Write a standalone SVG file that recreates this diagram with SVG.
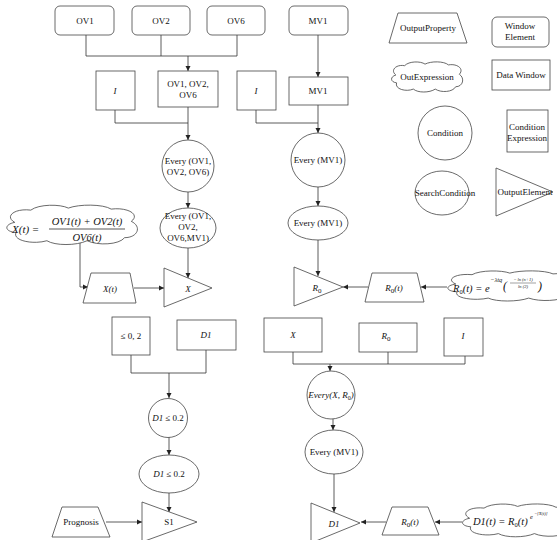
<svg xmlns="http://www.w3.org/2000/svg" xmlns:xlink="http://www.w3.org/1999/xlink" width="557" height="540" viewBox="0 0 557 540">
<defs>
<style>
.s{fill:#fff;stroke:#444;stroke-width:0.8}
.c{fill:none;stroke:#333;stroke-width:0.8}
.ca{fill:none;stroke:#333;stroke-width:0.8;marker-end:url(#ah)}
.t{font-family:"Liberation Serif","Times New Roman",serif;font-size:9px;fill:#111;text-anchor:middle}
.i{font-style:italic}
.m{font-family:"Liberation Serif","Times New Roman",serif;font-style:italic;fill:#111}
</style>
<marker id="ah" markerWidth="6" markerHeight="6" refX="5" refY="3" orient="auto" markerUnits="userSpaceOnUse"><path d="M0,0.5 L5,3 L0,5.5 z" fill="#222"/></marker>
<path id="cloud" d="M8,18 C0,12 8,4 20,6 C26,0 42,0 48,4 C56,0 74,0 80,5 C92,3 102,10 95,17 C103,22 100,33 90,33 C86,40 70,41 62,36 C54,41 38,41 32,36 C22,40 6,36 9,28 C0,27 0,20 8,18 Z" fill="#fff" stroke="#444" stroke-width="0.8" vector-effect="non-scaling-stroke"/>
</defs>
<rect width="557" height="540" fill="#fff"/>

<g id="connectors">
<path class="c" d="M86,35 V56 M161,35 V56 M237,35 V56 M86,56 H237"/>
<path class="ca" d="M188,56 V71"/>
<path class="c" d="M115,110 V123 H188"/>
<path class="ca" d="M188,107 V140"/>
<path class="ca" d="M188,192 V208"/>
<path class="ca" d="M188,247 V278"/>
<path class="ca" d="M80,243 V287 H88"/>
<path class="ca" d="M134,288 H164"/>
<path class="ca" d="M318,35 V77"/>
<path class="c" d="M256,110 V123 H318"/>
<path class="ca" d="M318,105 V133"/>
<path class="ca" d="M318,187 V206"/>
<path class="ca" d="M318,240 V276"/>
<path class="ca" d="M368,287 H343"/>
<path class="ca" d="M447,287 H421"/>
<path class="c" d="M131,355 V373 H206 V350"/>
<path class="ca" d="M169,373 V398"/>
<path class="ca" d="M169,437 V455"/>
<path class="ca" d="M169,493 V512"/>
<path class="ca" d="M106,522 H142"/>
<path class="c" d="M293,352 V364 H465 V356 M388,352 V364"/>
<path class="ca" d="M330,364 V371"/>
<path class="ca" d="M333,419 V430"/>
<path class="ca" d="M334,474 V512"/>
<path class="ca" d="M386,522 H361"/>
<path class="ca" d="M462,522 H435"/>
</g>

<g id="ov1"><rect class="s" x="55" y="6" width="59" height="29" rx="5"/><text class="t" x="85" y="24">OV1</text></g>
<g id="ov2"><rect class="s" x="132" y="6" width="58" height="29" rx="5"/><text class="t" x="161" y="24">OV2</text></g>
<g id="ov6"><rect class="s" x="207" y="6" width="58" height="29" rx="5"/><text class="t" x="236" y="24">OV6</text></g>
<g id="mv1-el"><rect class="s" x="289" y="6" width="59" height="29" rx="5"/><text class="t" x="318" y="24">MV1</text></g>

<g id="i-left"><rect class="s" x="96" y="71" width="39" height="39"/><text class="t i" x="115" y="94">I</text></g>
<g id="ov-win"><rect class="s" x="158" y="71" width="60" height="36"/><text class="t" x="188" y="87">OV1, OV2,</text><text class="t" x="188" y="98">OV6</text></g>
<g id="i-right"><rect class="s" x="237" y="71" width="39" height="39"/><text class="t i" x="256" y="94">I</text></g>
<g id="mv1-win"><rect class="s" x="289" y="77" width="59" height="28"/><text class="t" x="318" y="94">MV1</text></g>

<g id="every-ov"><circle class="s" cx="188" cy="166" r="26"/><text class="t" x="188" y="164" font-size="8.5">Every (OV1,</text><text class="t" x="188" y="175" font-size="8.5">OV2, OV6)</text></g>
<g id="every-ovmv"><ellipse class="s" cx="188" cy="228" rx="28" ry="20"/><text class="t" x="188" y="219" font-size="8">Every (OV1,</text><text class="t" x="188" y="230" font-size="8">OV2,</text><text class="t" x="188" y="241" font-size="8">OV6,MV1)</text></g>
<g id="every-mv1"><circle class="s" cx="318" cy="160" r="27"/><text class="t" x="318" y="163">Every (MV1)</text></g>
<g id="every-mv1b"><ellipse class="s" cx="318" cy="223" rx="30" ry="17"/><text class="t" x="318" y="226">Every (MV1)</text></g>

<g id="x-expr"><use xlink:href="#cloud" href="#cloud" transform="translate(4,204) scale(1.34,1.02)"/>
<text class="m" x="12" y="233" font-size="11">X(t) =</text>
<text class="m" x="87" y="225" font-size="10.5" text-anchor="middle">OV1(t) + OV2(t)</text>
<line x1="49" y1="229" x2="125" y2="229" stroke="#111" stroke-width="0.7"/>
<text class="m" x="87" y="241" font-size="10.5" text-anchor="middle">OV6(t)</text></g>
<g id="x-prop"><path class="s" d="M91,273 H130 L136,303 H83 Z"/><text class="t i" x="110" y="292" font-size="10">X(t)</text></g>
<g id="x-out"><path class="s" d="M164,268 L212,288 L164,307 Z"/><text class="t i" x="188" y="292" font-size="10">X</text></g>

<g id="r0-out"><path class="s" d="M294,267 L343,287 L294,306 Z"/><text class="t i" x="317" y="291" font-size="10">R<tspan font-size="7" dy="2" font-style="normal">0</tspan></text></g>
<g id="r0-prop"><path class="s" d="M372,273 H417 L424,302 H365 Z"/><text class="t i" x="394" y="291" font-size="10">R<tspan font-size="7" dy="2" font-style="normal">0</tspan><tspan dy="-2">(t)</tspan></text></g>
<g id="r0-expr"><use xlink:href="#cloud" href="#cloud" transform="translate(445,270) scale(1.35,0.78)"/>
<text class="m" x="453" y="292" font-size="10.5">R<tspan font-size="6.5" dy="2" font-style="normal">0</tspan><tspan dy="-2">(t) = e</tspan></text>
<text class="m" x="490" y="282" font-size="6.5">−λtq</text>
<text class="m" x="503" y="290" font-size="12" font-style="normal">(</text>
<text class="m" x="523" y="281" font-size="4.5" text-anchor="middle" font-style="normal">− ln (n+1)</text>
<line x1="510" y1="283" x2="536" y2="283" stroke="#111" stroke-width="0.4"/>
<text class="m" x="523" y="288" font-size="4.5" text-anchor="middle" font-style="normal">ln (2)</text>
<text class="m" x="538" y="290" font-size="12" font-style="normal">)</text></g>

<g id="le02"><rect class="s" x="112" y="317" width="38" height="38"/><text class="t" x="131" y="339">≤ 0, 2</text></g>
<g id="d1-win"><rect class="s" x="177" y="320" width="59" height="30"/><text class="t i" x="206" y="338">D1</text></g>
<g id="d1-cond"><circle class="s" cx="168" cy="418" r="19.5"/><text class="t" x="168" y="421" font-size="8.5"><tspan font-style="italic">D1</tspan> ≤ 0.2</text></g>
<g id="d1-search"><ellipse class="s" cx="169" cy="474" rx="30" ry="19"/><text class="t" x="169" y="477" font-size="8.5"><tspan font-style="italic">D1</tspan> ≤ 0.2</text></g>
<g id="prognosis"><path class="s" d="M62,507 H98 L110,537 H52 Z"/><text class="t" x="81" y="525" font-size="9.5">Prognosis</text></g>
<g id="s1"><path class="s" d="M142,502 L197,522 L142,542 Z"/><text class="t" x="169" y="525" font-size="10">S1</text></g>

<g id="x-win"><rect class="s" x="264" y="318" width="58" height="34"/><text class="t i" x="293" y="338" font-size="10">X</text></g>
<g id="r0-win"><rect class="s" x="359" y="323" width="58" height="29"/><text class="t i" x="386" y="339" font-size="10">R<tspan font-size="7" dy="2" font-style="normal">0</tspan></text></g>
<g id="i-win"><rect class="s" x="444" y="318" width="39" height="38"/><text class="t i" x="463" y="339">I</text></g>
<g id="every-xr0"><circle class="s" cx="331" cy="395" r="24"/><text class="t i" x="331" y="398" font-size="8.5">Every(X, R<tspan font-size="6" dy="1.5" font-style="normal">0</tspan><tspan dy="-1.5">)</tspan></text></g>
<g id="every-mv1c"><ellipse class="s" cx="334" cy="452" rx="29" ry="22"/><text class="t" x="334" y="455">Every (MV1)</text></g>
<g id="d1-out"><path class="s" d="M311,503 L360,523 L311,543 Z"/><text class="t i" x="334" y="527" font-size="10">D1</text></g>
<g id="r0-prop2"><path class="s" d="M392,507 H428 L439,535 H382 Z"/><text class="t i" x="410" y="525" font-size="10">R<tspan font-size="7" dy="2" font-style="normal">0</tspan><tspan dy="-2">(t)</tspan></text></g>
<g id="d1-expr"><use xlink:href="#cloud" href="#cloud" transform="translate(460,503) scale(1.2,0.85)"/>
<text class="m" x="473" y="525" font-size="10.5">D1(t) = R<tspan font-size="6.5" dy="2" font-style="normal">0</tspan><tspan dy="-2">(t)</tspan></text>
<text class="m" x="530" y="519" font-size="6.5">e</text>
<text class="m" x="534" y="515" font-size="4.5">−[X(t)]</text></g>

<g id="legend-prop"><path class="s" d="M398,13 H457 L467,43 H389 Z"/><text class="t" x="428" y="31">OutputProperty</text></g>
<g id="legend-win-el"><rect class="s" x="492" y="17" width="57" height="30" rx="5"/><text class="t" x="520" y="29">Window</text><text class="t" x="520" y="40">Element</text></g>
<g id="legend-expr"><use xlink:href="#cloud" href="#cloud" transform="translate(390,61) scale(0.73,0.78)"/><text class="t" x="427" y="80">OutExpression</text></g>
<g id="legend-data"><rect class="s" x="492" y="60" width="58" height="30"/><text class="t" x="521" y="78">Data Window</text></g>
<g id="legend-cond"><circle class="s" cx="445" cy="133" r="27"/><text class="t" x="445" y="136">Condition</text></g>
<g id="legend-condexpr"><rect class="s" x="507" y="110" width="41" height="42"/><text class="t" x="527" y="130">Condition</text><text class="t" x="527" y="141">Expression</text></g>
<g id="legend-search"><ellipse class="s" cx="442" cy="193" rx="27" ry="22"/><text class="t" x="445" y="196" font-size="8.7">SearchCondition</text></g>
<g id="legend-outel"><path class="s" d="M496,168 L553,192 L496,216 Z"/><text class="t" x="525" y="195" font-size="8.7">OutputElement</text></g>
</svg>
